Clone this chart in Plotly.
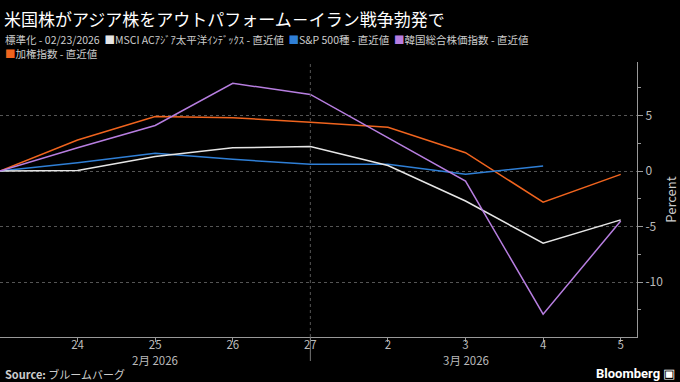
import plotly.graph_objects as go

categories = ["23", "24", "25", "26", "27", "2", "3", "4", "5"]
tick_labels = ["24", "25", "26", "27", "2", "3", "4", "5"]
msci_apac = [0.0, 0.05, 1.3, 2.1, 2.2, 0.5, -2.7, -6.5, -4.4]
sp500 = [0.0, 0.75, 1.6, 1.05, 0.6, 0.6, -0.3, 0.45, None]
kospi = [0.0, 2.1, 4.1, 7.9, 6.9, 3.0, -0.9, -12.9, -4.5]
taiex = [0.0, 2.8, 4.9, 4.8, 4.4, 3.95, 1.65, -2.8, -0.3]

series = [
    ("MSCI ACｱｼﾞｱ太平洋ｲﾝﾃﾞｯｸｽ", msci_apac, "#e6e6e6"),
    ("S&P 500種", sp500, "#2f7fd6"),
    ("韓国総合株価指数", kospi, "#b77ee0"),
    ("加権指数", taiex, "#f0641e"),
]

FONT = "Liberation Sans Narrow, Noto Sans CJK JP, sans-serif"
CJK = "Noto Sans CJK JP, sans-serif"

W, H = 680, 382
ML, MR, MT, MB = 0, 43, 62, 45


def paper_y(py):
    return (H - MB - py) / (H - MT - MB)


def paper_x(px):
    return px / (W - MR)


fig = go.Figure()
for name, vals, color in [series[3], series[1], series[0], series[2]]:
    fig.add_trace(go.Scatter(x=categories, y=vals, mode="lines", name=name,
                             line=dict(color=color, width=1.5), showlegend=False))

fig.update_layout(
    width=W, height=H,
    paper_bgcolor="black", plot_bgcolor="black",
    margin=dict(l=ML, r=MR, t=MT, b=MB, autoexpand=False),
    font=dict(family=FONT, color="#bbbbbb", size=12),
    xaxis=dict(type="category", range=[0, 8.21], tickvals=tick_labels, ticktext=tick_labels,
               showline=True, linecolor="#999999", linewidth=1, ticks="outside", ticklen=4,
               tickcolor="#999999", showgrid=False, zeroline=False, automargin=False,
               ticklabelstandoff=-7,
               tickfont=dict(size=11.5, color="#bbbbbb")),
    yaxis=dict(side="right", range=[-14.95, 9.82], tickvals=[-10, -5, 0, 5],
               ticktext=["-10", "-5", "0", "5"], showline=True, linecolor="#999999",
               ticks="outside", ticklen=5, tickcolor="#999999", automargin=False,
               minor=dict(dtick=2.5, ticks="outside", ticklen=3, tickcolor="#999999", showgrid=False),
               showgrid=True, gridcolor="#555555", griddash="dot", gridwidth=1, zeroline=False,
               tickfont=dict(size=12, color="#bbbbbb"),
               title=dict(text="Percent", font=dict(size=13, color="#cccccc"), standoff=4)),
    showlegend=False,
)

# month separator
fig.add_shape(type="line", xref="x", yref="paper", x0=4, x1=4, y0=0, y1=1,
              line=dict(color="#555555", width=1, dash="dot"))
fig.add_shape(type="line", xref="x", yref="paper", x0=4, x1=4, y0=paper_y(361), y1=0,
              line=dict(color="#777777", width=1))

fig.add_annotation(x=2, y=paper_y(359.5), xref="x", yref="paper", text="2月 2026", showarrow=False,
                   yanchor="middle", font=dict(size=11.5, color="#bbbbbb", family=FONT))
fig.add_annotation(x=6, y=paper_y(359.5), xref="x", yref="paper", text="3月 2026", showarrow=False,
                   yanchor="middle", font=dict(size=11.5, color="#bbbbbb", family=FONT))

# title
fig.add_annotation(x=paper_x(2), y=paper_y(18), xref="paper", yref="paper",
                   text="米国株がアジア株をアウトパフォーム－イラン戦争勃発で",
                   showarrow=False, xanchor="left", yanchor="middle",
                   font=dict(size=17, color="white", family=CJK))


def sq(c):
    return f"<span style='color:{c}'>■</span>"


line1 = ("標準化 - 02/23/2026  " + sq(series[0][2]) + series[0][0] + " - 直近値  "
         + sq(series[1][2]) + series[1][0] + " - 直近値  "
         + sq(series[2][2]) + series[2][0] + " - 直近値")
line2 = sq(series[3][2]) + series[3][0] + " - 直近値"

fig.add_annotation(x=paper_x(3), y=paper_y(40), xref="paper", yref="paper", text=line1,
                   showarrow=False, xanchor="left", yanchor="middle",
                   font=dict(size=10.5, color="#cccccc", family=FONT))
fig.add_annotation(x=paper_x(3), y=paper_y(53), xref="paper", yref="paper", text=line2,
                   showarrow=False, xanchor="left", yanchor="middle",
                   font=dict(size=10.5, color="#cccccc", family=FONT))

fig.add_annotation(x=paper_x(3), y=paper_y(374), xref="paper", yref="paper",
                   text="<b>Source:</b> ブルームバーグ",
                   showarrow=False, xanchor="left", yanchor="middle",
                   font=dict(size=11, color="#cccccc", family=FONT))
fig.add_annotation(x=paper_x(677), y=paper_y(373), xref="paper", yref="paper",
                   text="<b>Bloomberg</b> ▣",
                   showarrow=False, xanchor="right", yanchor="middle",
                   font=dict(size=13, color="white", family="Liberation Sans Narrow, Roboto, sans-serif"))

fig.write_html("out.html", config={"displayModeBar": False},
               post_script="document.body.style.margin='0';document.body.style.background='black';")
